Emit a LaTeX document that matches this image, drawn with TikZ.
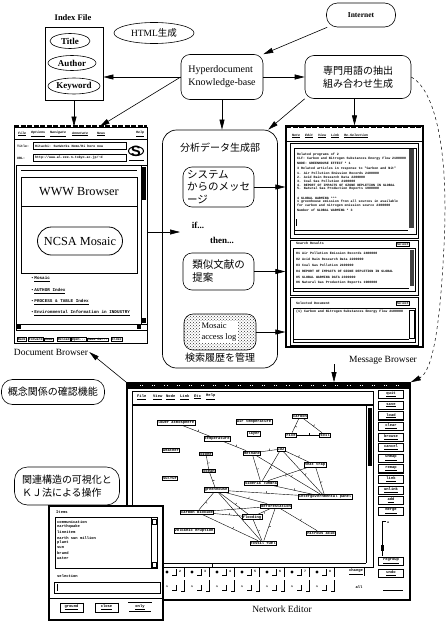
\documentclass[tikz,border=0pt]{standalone}
\usepackage{fontspec}
\setmainfont{Liberation Serif}
\newfontfamily\jpfont{Noto Sans CJK JP}
\newfontfamily\monofont{Liberation Mono}
\newfontfamily\sansfont{Liberation Sans}
\usetikzlibrary{arrows.meta,shapes.geometric,patterns,decorations.markings}
\newcommand\mytiny{\monofont\bfseries\fontsize{3.8}{4.4}\selectfont}
\newcommand\myxs{\monofont\bfseries\fontsize{3.3}{4.4}\selectfont}
\newcommand\mysm{\monofont\bfseries\fontsize{4.3}{5}\selectfont}
\begin{document}
\begin{tikzpicture}[x=1pt,y=-1pt,
  every node/.style={inner sep=1pt},
  arr/.style={-{Triangle[length=10pt,width=5pt]},line width=0.6pt},
  rbox/.style={draw,rounded corners=9pt,line width=0.6pt},
  oval/.style={draw,ellipse,line width=0.6pt,inner sep=0pt,font=\bfseries\fontsize{9}{10}\selectfont},
  jp/.style={font=\jpfont\fontsize{10}{13}\selectfont},
  lbl/.style={font=\fontsize{9.5}{11}\selectfont},
  gn/.style={draw,fill=white,line width=0.5pt,inner sep=0.7pt,font=\mytiny},
  ge/.style={line width=0.4pt,postaction={decorate},decoration={markings,mark=at position 0.55 with {\draw[line width=0.4pt] (0,0)--(0,2pt);}}},
  btn/.style={draw,line width=0.5pt,fill=white,inner sep=0.5pt,font=\mytiny,minimum width=25pt,minimum height=8pt},
  tx/.style={anchor=west,font=\myxs,inner sep=0pt},
]
\useasboundingbox (0,0) rectangle (447,621);

% ---------- top row ----------
\node[font=\bfseries\fontsize{8.5}{10}\selectfont] (idxlbl) at (73,18) {Index File};
\node[draw,line width=0.7pt,minimum width=58pt,minimum height=73pt] (idx) at (74,63.5) {};
\node[oval,minimum width=40pt,minimum height=15pt] (ttl) at (70,41) {Title};
\node[oval,minimum width=48pt,minimum height=15pt] (aut) at (72,63) {Author};
\node[oval,minimum width=52pt,minimum height=16pt] (kwd) at (74,86) {Keyword};
\node[draw,ellipse,line width=0.6pt,inner sep=0pt,minimum width=80pt,minimum height=21pt,font=\fontsize{9.5}{11}\selectfont] (html) at (154,33) {HTML\jpfont 生成};
\node[rbox,minimum width=82pt,minimum height=45pt,align=left,font=\fontsize{10}{13}\selectfont] (hyp) at (222,77) {Hyperdocument\\Knowledge-base};
\node[draw,rounded corners=11pt,line width=0.6pt,minimum width=69pt,minimum height=24pt,font=\bfseries\fontsize{7.5}{9}\selectfont] (inet) at (361,15) {Internet};
\node[rbox,jp,minimum width=106pt,minimum height=43pt,align=left] (term) at (358,77) {専門用語の抽出\\組み合わせ生成};

% ---------- windows / frames ----------
\node[draw,line width=1pt,minimum width=133pt,minimum height=216pt] (db) at (80.5,235) {};
\node[draw,line width=1.2pt,minimum width=137pt,minimum height=221pt] (mb) at (354.5,236.5) {};
\node[draw,rounded corners=14pt,line width=0.7pt,minimum width=115pt,minimum height=238pt] (anal) at (220,249) {};
\node[draw,line width=1.6pt,minimum width=283pt,minimum height=217pt] (ne) at (268.5,491.5) {};

\node[lbl] (dbl) at (51,352) {Document Browser};
\node[lbl] (mbl) at (383,360) {Message Browser};
\node[lbl] (nel) at (282,609) {Network Editor};

% ---------- analysis column ----------
\node[jp] (analt) at (220,148) {分析データ生成部};
\node[rbox,align=left,font=\jpfont\fontsize{10.5}{12.5}\selectfont,minimum width=71pt,minimum height=40pt] (sys) at (218.5,187) {システム\\からのメッセ\\ージ};
\node[font=\bfseries\fontsize{9}{10}\selectfont] (ifn) at (198,225) {if...};
\node[font=\bfseries\fontsize{9}{10}\selectfont] (thn) at (222,240) {then...};
\node[rbox,align=left,font=\jpfont\fontsize{10.5}{13}\selectfont,minimum width=71pt,minimum height=37pt] (sim) at (218.5,271.5) {類似文献の\\提案};
\node[draw,rounded corners=9pt,line width=0.6pt,pattern=crosshatch dots,pattern color=black!80,minimum width=72pt,minimum height=36pt] (log) at (220,332) {};
\node[fill=white,align=left,inner sep=1.5pt,font=\fontsize{8.5}{11}\selectfont] (logt) at (219,332) {Mosaic\\access log};
\node[jp] (hist) at (220,358) {検索履歴を管理};

% ---------- connectors ----------
\draw[arr] (inet.200) -- (hyp.north east);
\draw[arr] (hyp.west) -- (hyp.west -| idx.east);
\draw[arr] (hyp.east) -- (term.west);
\draw[arr] (hyp.west) -- (db.80);
\draw[arr] (idx.south) -- (idx.south |- db.north);
\draw[arr] (hyp.south) -- (hyp.south |- anal.north);
\draw[arr] (term.south west) -- (anal.68);
\draw[arr] (mb.north |- term.south) -- (mb.north);
\draw[dashed,line width=0.5pt,-{Triangle[length=10pt,width=5pt]}] (term.east) .. controls (435,90) and (449,150) .. (444,245) .. controls (440,330) and (432,372) .. (ne.north east);
\coordinate (ain) at (180,232);
\draw[arr] (db.east |- ain) -- (ain);
\draw[arr] (sys.east) -- (sys.east -| mb.west);
\draw[arr] (sim.east) -- (sim.east -| mb.west);
\draw[arr] (log.east) -- (log.east -| mb.west);
\coordinate (mbo) at (334,364);
\draw[arr] (mbo) -- (mbo |- ne.north);
\draw[arr] (ne.north west) -- (dbl.east);

% ---------- callouts ----------
\node[draw,rounded corners=11pt,line width=0.6pt,jp,minimum width=103pt,minimum height=25pt] (c1) at (53,392) {概念関係の確認機能};
\node[draw,rounded corners=13pt,line width=0.6pt,jp,align=left,minimum width=105pt,minimum height=38pt] (c2) at (67,486) {関連構造の可視化と\\ＫＪ法による操作};

% ---------- document browser contents ----------
\draw[line width=2.5pt,dash pattern=on 5pt off 1.5pt] (14,126.5)--(147,126.5);
\foreach \t/\x [count=\i] in {File/18,Options/31,Navigate/50,Annotate/72,News/97,Help/136}
  \node[tx,font=\myxs\itshape] (dm\i) at (\x,134) {\underline{\t}};
\draw[line width=0.5pt] (14,139.5)--(147,139.5);
\node[tx] (dtl) at (17,146) {Title:};
\draw[line width=0.5pt] (33,142.5) rectangle (126,149.5);
\node[tx] (dtt) at (35,146) {Hitachi: SunWorks Home/Hi here now};
\node[tx] (dul) at (17,158) {URL:};
\draw[line width=0.5pt] (33,154.5) rectangle (126,161.5);
\node[tx] (dut) at (35,158) {http://www.al.eee.n-tokyo.ac.jp/\textasciitilde d};
\node[font=\sansfont\bfseries\fontsize{15}{15}\selectfont] (logo) at (136,151) {S};
\draw[line width=1pt] (logo.center) ellipse (7.5pt and 4.5pt);
\draw[line width=1pt] (129,160)--(144,160);
\draw[line width=0.6pt] (16,165.5) rectangle (147,330);
\draw[line width=0.5pt] (141,165.5)--(141,324);
\fill (142,167) rectangle (146,200);
\fill (142,318) rectangle (146,323);
\draw[line width=0.8pt] (21,170)--(137,170);
\draw[line width=0.8pt] (21,177) rectangle (137,273);
\draw[line width=0.8pt] (21,206)--(137,206);
\node[font=\fontsize{12.3}{14}\selectfont] (www) at (79,192) {WWW Browser};
\node[draw,rounded corners=14pt,line width=0.8pt,minimum width=85pt,minimum height=28pt,font=\fontsize{12.3}{14}\selectfont] (ncsa) at (80,241) {NCSA Mosaic};
\foreach \t/\y [count=\i] in {Mosaic/279,AUTHOR Index/291,PROCESS \& TABLE Index/302,Environmental Information in INDUSTRY/313}
  \node[tx,font=\mysm] (bl\i) at (31,\y) {\textbullet\,\underline{\t}};
\draw[line width=0.5pt] (16,324)--(147,324);
\fill (17,325) rectangle (21,329);
\fill (137,325) rectangle (141,329);
\foreach \t/\x [count=\i] in {Back/17,Forward/28,Home/44,Reload/57,{Open...}/71,{Save As...}/87,Close/111}
  \node[tx,draw,line width=0.4pt,inner sep=0.6pt] (dbb\i) at (\x,339.5) {\t};

% ---------- message browser contents ----------
\draw[line width=2.5pt,dash pattern=on 5pt off 1.5pt] (286,126.5)--(423,126.5);
\foreach \t/\x [count=\i] in {Note/292,Edit/305,View/318,Link/331,Re-Selection/344}
  \node[tx,font=\myxs\itshape] (mm\i) at (\x,136) {\underline{\t}};
\draw[line width=0.5pt] (286,141)--(423,141);
\draw[line width=0.8pt] (290,143) rectangle (418,238);
\draw[line width=0.5pt] (294,148) rectangle (416,234);
\fill[black!75] (409,149) rectangle (414,228);
\draw[line width=1pt] (295,230)--(408,230);
\foreach \t/\y [count=\i] in {{Related programs of 2}/155,{CLF: Carbon and Nitrogen Substances Energy Flow 2100000}/159,{NODE: GREENHOUSE EFFECT * 1}/163,{3 Related articles in response to "Carbon and Nit"}/169,{1. Air Pollution Emission Records 2400000}/173,{2. Acid Rain Research Data 2200000}/177,{3. Coal Gas Pollution 2100000}/181,{4. REPORT OF IMPACTS OF OZONE DEPLETION IN GLOBAL}/185,{5. Natural Gas Production Reports 1900000}/189,{4 GLOBAL WARMING ***}/198,{1 greenhouse emission from all sources in available}/202,{for carbon and nitrogen emission source 2300000}/206,{Number of GLOBAL WARMING * 3}/210}
  \node[tx] (pa\i) at (297,\y) {\t};
\draw[line width=0.8pt] (296,219)--(296,226);
\draw[line width=0.8pt] (290,240) rectangle (418,295);
\node[tx] (p2h) at (296,243) {Search Results};
\node[draw,line width=0.8pt,font=\myxs,inner sep=0.8pt] (p2b) at (403,244) {Select};
\draw[line width=0.5pt] (293,248) rectangle (415,291);
\fill[black!75] (410,250) rectangle (414,286);
\draw[line width=1pt] (294,288)--(409,288);
\foreach \t/\y [count=\i] in {{01 Air Pollution Emission Records 2400000}/253,{02 Acid Rain Research Data 2200000}/259,{03 Coal Gas Pollution 2100000}/265,{04 REPORT OF IMPACTS OF OZONE DEPLETION IN GLOBAL}/271,{05 GLOBAL WARMING DATA 2300000}/277,{06 Natural Gas Production Reports 1900000}/283}
  \node[tx] (pb\i) at (296,\y) {\t};
\draw[line width=0.8pt] (290,297) rectangle (418,345);
\node[tx] (p3h) at (296,303) {Selected Document};
\node[draw,line width=0.8pt,font=\myxs,inner sep=0.8pt] (p3b) at (403,303) {Select};
\draw[line width=0.5pt] (293,308) rectangle (415,342);
\node[tx] (p3l) at (296,312) {(1) Carbon and Nitrogen Substances Energy Flow 2100000};
\draw[line width=0.5pt] (409,310) rectangle (414,338);
\draw[line width=1pt] (294,339)--(409,339);

% ---------- network editor contents ----------
\fill (127,382) rectangle (410,389);
\draw[white,line width=0.8pt,dash pattern=on 1pt off 1.2pt on 1pt off 9pt] (140,385.5)--(400,385.5);
\draw[line width=0.6pt] (132,391) rectangle (373,404);
\foreach \t/\x [count=\i] in {File/137,View/153,Node/166,Link/180,Etc/194,Help/206}
  \node[tx,font=\mytiny] (nm\i) at (\x,397) {\underline{\t}};
\draw[line width=0.6pt] (132,405) rectangle (373,567);
\draw[line width=0.5pt] (366,405)--(366,563);
\fill (368,408) rectangle (372,466);
\draw[line width=0.5pt] (132,563)--(366,563);
\draw[line width=0.8pt] (163,563) rectangle (212,567);
\foreach \t [count=\i] in {quit,save,load,clear,browse,cancel,unmap,remap,link,unlink,add,merge} {
  \node[btn] (nb\i) at (391,{394.5+(\i-1)*10.6}) {\underline{\t}};
  \draw[line width=1.2pt] (nb\i.north east)--(nb\i.south east)--(nb\i.south west);
}
\draw[line width=0.6pt] (386,521)--(382,521)--(382,556);
\node[font=\myxs] (sla) at (388,523) {a};
\fill (381,545) rectangle (384,551);
\node[btn] (nbr) at (391,561) {\underline{regroup}};
\draw[line width=1.2pt] (nbr.north east)--(nbr.south east)--(nbr.south west);
\node[btn] (nbu) at (391,573) {\underline{undo}};
\draw[line width=1.2pt] (nbu.north east)--(nbu.south east)--(nbu.south west);
\node[font=\mytiny] (nch) at (356,572) {\underline{change}};
\draw[line width=0.8pt] (nch.north east)--(nch.south east);
\node[font=\mytiny] (nal) at (359,587) {all};
\draw[line width=0.6pt] (383,590)--(403,590);
\foreach \i in {0,...,6} {
  \pgfmathsetmacro\xx{167+\i*25}
  \pgfmathtruncatemacro\nn{\i+2}
  \node[diamond,fill,inner sep=0pt,minimum size=3.5pt] (td\i) at (\xx,572) {};
  \draw[line width=0.5pt] (\xx+5,575)--(\xx+9,575)--(\xx+9,569);
  \node[font=\myxs] (tn\i) at (\xx+13,571) {\nn};
  \draw[line width=0.8pt] (\xx+17,567)--(\xx+17,577);
  \node[font=\mytiny] (tc\i) at (\xx,587) {\textasciicircum};
  \draw[line width=0.5pt] (\xx+5,590)--(\xx+9,590)--(\xx+9,585);
  \draw[line width=0.8pt] (\xx+14,591)--(\xx+17,591)--(\xx+17,580);
}

% graph
\node[gn] (g1) at (176,423) {lower atmosphere};
\node[gn] (g2) at (254,422) {air temperature};
\node[gn] (g3) at (300,416) {carbon};
\node[gn] (g4) at (291,435) {rice};
\node[gn] (g5) at (325,435) {soil};
\node[gn] (g6) at (254,434) {layer};
\node[gn] (g7) at (217,439) {temperature};
\node[gn] (g8) at (171,450) {weather};
\node[gn] (g9) at (206,454) {ozone};
\node[gn] (g10) at (252,453) {methane};
\node[gn] (g11) at (281,449) {CO2};
\node[gn] (g12) at (315,465) {heat trap};
\node[gn] (g13) at (209,471) {ocean};
\node[gn] (g14) at (170,478) {sulfur};
\node[gn] (g15) at (261,483) {Siberia Tundra};
\node[gn] (g16) at (216,490) {greenhouse};
\node[gn] (g17) at (325,497) {intergovernmental panel};
\node[gn] (g18) at (276,506) {deforestation};
\node[gn] (g19) at (197,512) {carbon dioxide};
\node[gn] (g20) at (252,517) {flooding};
\node[gn] (g21) at (194,531) {volcanic eruption};
\node[gn] (g22) at (321,533) {nitrous acid};
\node[gn] (g23) at (263,543) {fossil fuel};
\foreach \a/\b in {g1/g7,g7/g10,g10/g11,g3/g4,g3/g5,g4/g5,g9/g13,g13/g16,g11/g12,g11/g15,g11/g17,g10/g15,g10/g17,g12/g17,g12/g15,g15/g17,g16/g17,g16/g18,g16/g19,g16/g20,g16/g23,g19/g18,g19/g20,g19/g23,g18/g20,g18/g22,g18/g23,g20/g23}
  \draw[ge] (\a) -- (\b);

% ---------- items dialog ----------
\node[draw,fill=white,line width=1.2pt,minimum width=114pt,minimum height=114pt] (itm) at (106,563) {};
\node[tx,font=\mytiny] (itl) at (56,512) {Items};
\draw[line width=0.5pt] (55,517) rectangle (157,568);
\draw[line width=0.5pt] (151,517)--(151,568);
\draw[line width=0.5pt] (152,519) rectangle (156,524);
\draw[line width=0.5pt] (152,562) rectangle (156,567);
\foreach \t/\y [count=\i] in {communication/522,earthquake/527,lineitem/532,earth sun million/538,plant/543,sun/547,brand/553,water/558}
  \node[tx,font=\mytiny] (it\i) at (57,\y) {\t};
\node[tx,font=\mytiny] (isel) at (57,576) {selection};
\draw[line width=0.5pt] (54,582) rectangle (160,593);
\draw[line width=0.8pt] (57,584)--(57,591);
\draw[line width=0.5pt] (49,598)--(163,598);
\node[draw,line width=0.6pt,font=\mytiny,minimum width=23pt,minimum height=9pt,inner sep=0.5pt] (ib1) at (71.5,607.5) {\underline{ground}};
\draw[line width=1.2pt] (ib1.north east)--(ib1.south east)--(ib1.south west);
\node[draw,line width=0.6pt,font=\mytiny,minimum width=23pt,minimum height=9pt,inner sep=0.5pt] (ib2) at (106.5,607.5) {\underline{close}};
\draw[line width=1.2pt] (ib2.north east)--(ib2.south east)--(ib2.south west);
\node[draw,double,line width=0.5pt,font=\mytiny,minimum width=23pt,minimum height=9pt,inner sep=0.5pt] (ib3) at (140,607.5) {\underline{only}};
\end{tikzpicture}
\end{document}
